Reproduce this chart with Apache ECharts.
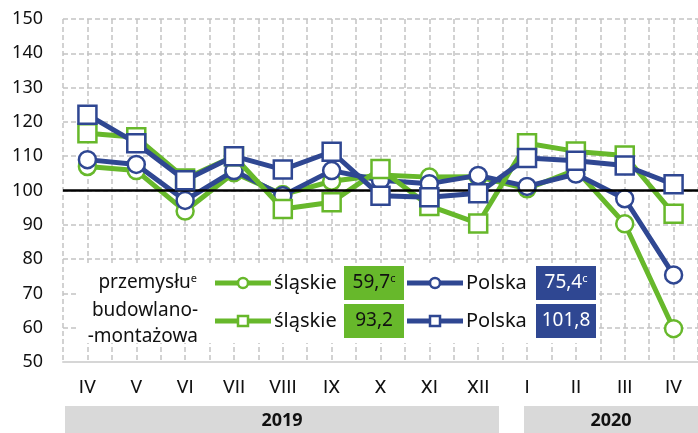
<!DOCTYPE html>
<html>
<head>
<meta charset="utf-8">
<script src="https://cdn.jsdelivr.net/npm/echarts@6/dist/echarts.min.js"></script>
<style>
  html, body { margin: 0; padding: 0; background: #fff; }
  #chart { width: 698px; height: 433px; }
</style>
</head>
<body>
<div id="chart"></div>
<script>
// months Apr 2019 - Apr 2020
var months = ['IV', 'V', 'VI', 'VII', 'VIII', 'IX', 'X', 'XI', 'XII', 'I', 'II', 'III', 'IV'];
var yTicks = [50, 150, 10];

// produkcja przemyslowa (circles)
var slaskiePrzem = [107, 105.8, 94, 105.2, 98.8, 102.7, 104.5, 103.9, 104, 100.5, 106, 90.3, 59.7];
var polskaPrzem = [109, 107.6, 97.1, 105.8, 98.5, 105.8, 103, 102, 104.4, 101.2, 104.8, 97.6, 75.4];
// produkcja budowlano-montazowa (squares)
var slaskieBud = [116.7, 115.5, 103.5, 110, 94.6, 96.6, 106.3, 95.5, 90.4, 113.8, 111.4, 110.2, 93.2];
var polskaBud = [122.1, 113.8, 103, 110, 106.1, 111.3, 98.5, 98, 99.2, 109.5, 108.7, 107.3, 101.8];

var lastValues = ['59,7', '75,4', '93,2', '101,8'];

var green = '#67b82b';
var blue = '#2f4792';
var font = 'Noto Sans';
var narrow = 'Roboto';
var grey = '#c4c4c4';

function lineSeries(name, data, color, symbol, size, z) {
  return {
    name: name,
    type: 'line',
    data: data,
    symbol: symbol,
    symbolSize: size,
    showAllSymbol: true,
    z: z,
    lineStyle: { color: color, width: 5 },
    itemStyle: { color: '#fff', borderColor: color, borderWidth: 2.5 },
    emphasis: { disabled: true }
  };
}

var series = [
  lineSeries('slaskie przemysl', slaskiePrzem, green, 'circle', 17, 2),
  lineSeries('polska przemysl', polskaPrzem, blue, 'circle', 17, 3),
  lineSeries('slaskie bud', slaskieBud, green, 'rect', 18, 4),
  lineSeries('polska bud', polskaBud, blue, 'rect', 18, 5)
];
series[3].markLine = {
  silent: true,
  symbol: 'none',
  label: { show: false },
  lineStyle: { color: '#000', type: 'solid', width: 2.5 },
  data: [{ yAxis: 100 }]
};

// legend drawn by hand: line + marker, name, value box
function legendRow(x, y, color, symbol, name, value, sup, textColor) {
  var els = [
    { type: 'line', z: 10, shape: { x1: x, y1: y, x2: x + 56, y2: y },
      style: { stroke: color, lineWidth: 5 } },
    symbol === 'circle'
      ? { type: 'circle', z: 11, shape: { cx: x + 28, cy: y, r: 5 },
          style: { fill: '#fff', stroke: color, lineWidth: 2.5 } }
      : { type: 'rect', z: 11, shape: { x: x + 23, y: y - 5, width: 10, height: 10 },
          style: { fill: '#fff', stroke: color, lineWidth: 2.5 } },
    { type: 'text', z: 11, style: { text: name, x: x + 59, y: y, font: '20px "' + font + '"',
        fill: '#111', verticalAlign: 'middle' } },
    { type: 'rect', z: 10, shape: { x: x + 129, y: y - 17, width: 60, height: 34 },
      style: { fill: color } },
    { type: 'text', z: 11, style: {
        text: value + (sup ? '{s|c}' : ''), x: x + 159, y: y, font: '19px "' + font + '"',
        fill: textColor, align: 'center', verticalAlign: 'middle',
        rich: { s: { fontSize: 11, fontFamily: font, fill: textColor, verticalAlign: 'top', padding: [0, 0, 8, 0] } } } }
  ];
  return els;
}

var graphics = [
  { type: 'rect', z: 9, shape: { x: 76, y: 263, width: 522, height: 80 }, style: { fill: '#fff' } },
  { type: 'text', z: 11, style: { text: 'przemysłu{s|e}', x: 197, y: 283, align: 'right', verticalAlign: 'middle',
      font: '19px "' + font + '"', fill: '#111',
      rich: { s: { fontSize: 11, fontFamily: font, fill: '#111', verticalAlign: 'top', padding: [0, 0, 8, 0] } } } },
  { type: 'text', z: 11, style: { text: 'budowlano-', x: 198, y: 311, align: 'right', verticalAlign: 'middle',
      font: '19px "' + font + '"', fill: '#111' } },
  { type: 'text', z: 11, style: { text: '-montażowa', x: 198, y: 337, align: 'right', verticalAlign: 'middle',
      font: '19px "' + font + '"', fill: '#111' } },
  // year bands
  { type: 'rect', shape: { x: 65, y: 406, width: 434, height: 27 }, style: { fill: '#d9d9d9' } },
  { type: 'text', style: { text: '2019', x: 282, y: 421, align: 'center', verticalAlign: 'middle',
      font: 'bold 18px "' + font + '"', fill: '#111' } },
  { type: 'rect', shape: { x: 524, y: 406, width: 174, height: 27 }, style: { fill: '#d9d9d9' } },
  { type: 'text', style: { text: '2020', x: 611, y: 421, align: 'center', verticalAlign: 'middle',
      font: 'bold 18px "' + font + '"', fill: '#111' } }
];
graphics = graphics
  .concat(legendRow(215, 283, green, 'circle', 'śląskie', lastValues[0], true, '#111'))
  .concat(legendRow(215, 321, green, 'rect', 'śląskie', lastValues[2], false, '#111'))
  .concat(legendRow(407, 283, blue, 'circle', 'Polska', lastValues[1], true, '#fff'))
  .concat(legendRow(407, 321, blue, 'rect', 'Polska', lastValues[3], false, '#fff'));

var chart = echarts.init(document.getElementById('chart'), null, { renderer: 'canvas' });
chart.setOption({
  animation: false,
  backgroundColor: '#fff',
  textStyle: { fontFamily: font },
  grid: { left: 63, right: 0, top: 19, bottom: 71, containLabel: false },
  xAxis: [{
    type: 'category',
    data: months,
    boundaryGap: true,
    axisLine: { show: true, lineStyle: { color: '#d6d6d6', width: 2 } },
    axisTick: { show: false },
    axisLabel: { fontSize: 19, color: '#111', margin: 17, fontFamily: narrow },
    splitLine: { show: false }
  }, {
    type: 'value',
    min: 0,
    max: months.length,
    interval: 0.5,
    position: 'bottom',
    axisLine: { show: false },
    axisTick: { show: false },
    axisLabel: { show: false },
    splitLine: { show: true, lineStyle: { color: grey, type: [5, 3], width: 1.5 } }
  }],
  yAxis: {
    type: 'value',
    min: yTicks[0],
    max: yTicks[1],
    interval: yTicks[2],
    axisLine: { show: false },
    axisTick: { show: false },
    axisLabel: { fontSize: 18, color: '#111', margin: 20, fontFamily: font },
    splitLine: { show: true, lineStyle: { color: grey, type: [5, 3], width: 1.5 } }
  },
  series: series,
  graphic: graphics
});
</script>
</body>
</html>
